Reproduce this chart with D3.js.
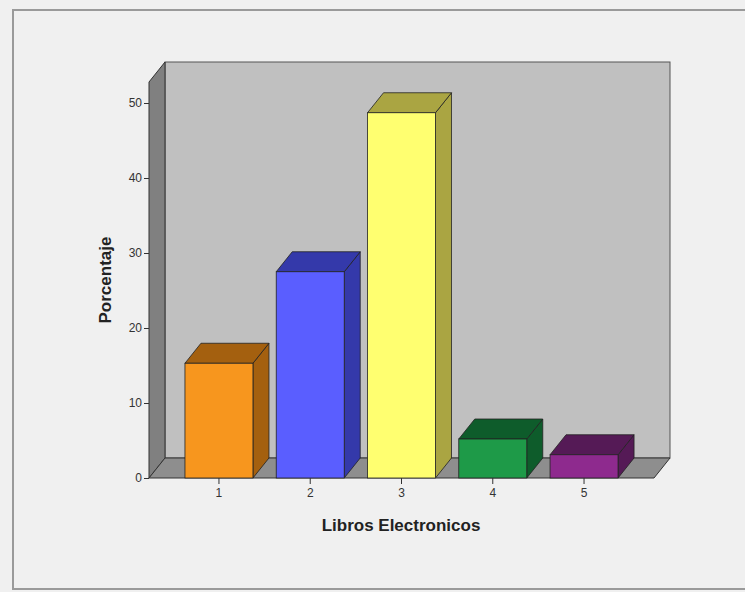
<!DOCTYPE html>
<html>
<head>
    <title>Libros Electronicos</title>
    <style>
        body { margin: 0; background: #f0f0f0; font-family: Arial, "Liberation Sans", sans-serif; }
        svg { display: block; }
        .tick text { font-size: 12px; fill: #333; }
        .tick line { stroke: #333; }
        .axis-title { font-size: 17px; font-weight: bold; fill: #222; }
    </style>
</head>
<body>
    <svg id="chart" width="745" height="592"></svg>
    <script src="https://d3js.org/d3.v7.min.js"></script>
    <script>
        // Data
        const categories = ["1", "2", "3", "4", "5"];
        const values = [15.3, 27.5, 48.7, 5.2, 3.1];
        const yTicks = [0, 10, 20, 30, 40, 50];
        const frontColors = ["#f7961e", "#5a5eff", "#ffff70", "#1e9a48", "#8e2a8e"];
        const darkColors = ["#a4600f", "#3439aa", "#aaa542", "#0e5c2b", "#551a56"];

        const svg = d3.select("#chart");

        // outer frame
        svg.append("rect")
            .attr("x", 13).attr("y", 10)
            .attr("width", 745).attr("height", 579)
            .attr("fill", "#f0f0f0")
            .attr("stroke", "#9a9a9a")
            .attr("stroke-width", 2);

        // plot box
        const pLeft = 149, pRight = 654, pBottom = 478, pTop = 82;
        const dx = 16, dy = -20; // depth offset
        const x = d3.scaleBand().domain(categories).range([pLeft, pRight])
            .paddingInner(0.255).paddingOuter(0.394);
        const y = d3.scaleLinear().domain([0, 52.8]).range([pBottom, pTop]);

        const pts = a => a.map(p => p.join(",")).join(" ");

        // back wall
        svg.append("rect")
            .attr("x", pLeft + dx).attr("y", pTop + dy)
            .attr("width", pRight - pLeft).attr("height", pBottom - pTop)
            .attr("fill", "#c0c0c0")
            .attr("stroke", "#555").attr("stroke-width", 1);

        // left wall
        svg.append("polygon")
            .attr("points", pts([[pLeft, pBottom], [pLeft, pTop], [pLeft + dx, pTop + dy], [pLeft + dx, pBottom + dy]]))
            .attr("fill", "#808080").attr("stroke", "#333").attr("stroke-width", 1);

        // floor
        svg.append("polygon")
            .attr("points", pts([[pLeft, pBottom], [pRight, pBottom], [pRight + dx, pBottom + dy], [pLeft + dx, pBottom + dy]]))
            .attr("fill", "#8e8e8e").attr("stroke", "#333").attr("stroke-width", 1);

        // bars
        const bars = svg.append("g").selectAll("g")
            .data(values)
            .enter().append("g");

        bars.append("polygon") // side
            .attr("points", (d, i) => {
                const x1 = x(categories[i]) + x.bandwidth();
                return pts([[x1, pBottom], [x1, y(d)], [x1 + dx, y(d) + dy], [x1 + dx, pBottom + dy]]);
            })
            .attr("fill", (d, i) => darkColors[i])
            .attr("stroke", "#222").attr("stroke-width", 0.8);

        bars.append("polygon") // top face
            .attr("points", (d, i) => {
                const x0 = x(categories[i]), x1 = x0 + x.bandwidth();
                return pts([[x0, y(d)], [x1, y(d)], [x1 + dx, y(d) + dy], [x0 + dx, y(d) + dy]]);
            })
            .attr("fill", (d, i) => darkColors[i])
            .attr("stroke", "#222").attr("stroke-width", 0.8);

        bars.append("rect") // front
            .attr("x", (d, i) => x(categories[i]))
            .attr("y", d => y(d))
            .attr("width", x.bandwidth())
            .attr("height", d => pBottom - y(d))
            .attr("fill", (d, i) => frontColors[i])
            .attr("stroke", "#222").attr("stroke-width", 0.8);

        // axes
        svg.append("g")
            .attr("transform", `translate(${pLeft},0)`)
            .call(d3.axisLeft(y).tickValues(yTicks).tickSize(5).tickPadding(2))
            .call(g => g.select(".domain").remove());

        svg.append("g")
            .attr("transform", `translate(0,${pBottom})`)
            .call(d3.axisBottom(x).tickSize(6).tickPadding(4))
            .call(g => g.select(".domain").remove());

        // titles
        svg.append("text")
            .attr("class", "axis-title")
            .attr("x", 401).attr("y", 531)
            .attr("text-anchor", "middle")
            .text("Libros Electronicos");

        svg.append("text")
            .attr("class", "axis-title")
            .attr("transform", "translate(111,280) rotate(-90)")
            .attr("text-anchor", "middle")
            .text("Porcentaje");
    </script>
</body>
</html>
